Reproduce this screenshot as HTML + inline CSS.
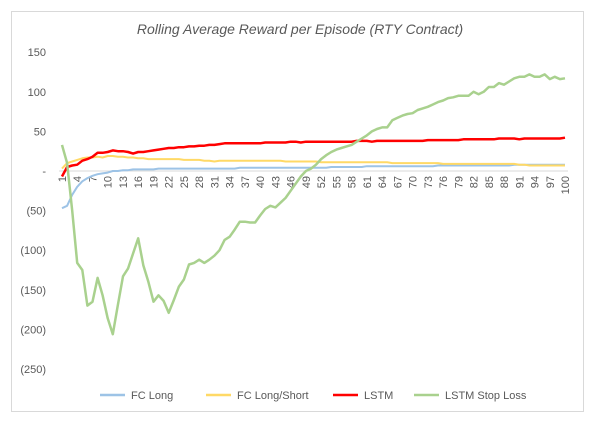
<!DOCTYPE html>
<html><head><meta charset="utf-8"><style>
body{margin:0;background:#fff;font-family:"Liberation Sans",sans-serif;}
#wrap{position:relative;width:598px;height:423px;}
</style></head><body>
<div id="wrap">
<svg id="chart" width="598" height="423">
<rect x="11.5" y="11.5" width="572" height="400" fill="#fff" stroke="#d9d9d9"/>
<text x="300" y="34" text-anchor="middle" font-size="14" font-style="italic" fill="#595959">Rolling Average Reward per Episode (RTY Contract)</text>
<g id="yaxis"></g>
<g id="xaxis"></g>
<g id="series"></g>
<g id="legend"></g>
</svg></div>
<script>
const yTicks=[150,100,50,0,-50,-100,-150,-200,-250];
const yTickLabels=["150","100","50","-","(50)","(100)","(150)","(200)","(250)"];
const fcLong=[-47,-44,-30,-20,-13,-9,-6,-4,-3,-2,0,0,1,1,2,2,2,2,2,3,3,3,3,3,3,3,3,3,3,3,3,3,3,3,3,4,4,4,4,4,4,4,4,4,4,4,4,4,4,4,4,4,4,5,5,5,5,5,5,5,6,6,6,6,6,6,6,6,6,6,6,6,6,6,7,7,7,7,7,7,7,7,7,7,7,7,7,7,7,8,8,8,8,8,8,8,8,8,8,8];
const fcLongShort=[3,10,12,14,16,17,17,18,17,19,19,18,18,17,17,16,16,15,15,15,15,15,15,15,14,14,14,14,13,13,12,13,13,13,13,13,13,13,13,13,13,13,13,13,12,12,12,12,12,12,12,11,11,11,11,11,11,11,11,11,11,11,11,11,11,10,10,10,10,10,10,10,10,10,10,9,9,9,9,9,9,9,9,9,9,9,9,9,9,9,8,8,7,7,7,7,7,7,7,7];
const lstm=[-7,5,7,8,13,15,18,23,23,24,26,25,25,24,22,24,24,25,26,27,28,29,29,30,30,31,31,32,32,33,33,34,35,35,35,35,35,35,35,35,36,36,36,36,36,37,37,36,37,37,37,37,37,37,37,37,37,37,38,38,38,37,38,38,38,38,38,38,38,38,38,38,39,39,39,39,39,39,39,40,40,40,40,40,40,40,41,41,41,41,40,41,41,41,41,41,41,41,41,42];
const lstmStopLoss=[33,10,-50,-116,-125,-170,-165,-135,-157,-186,-206,-169,-133,-123,-104,-85,-119,-140,-165,-157,-164,-179,-163,-146,-137,-118,-116,-112,-116,-112,-107,-100,-87,-83,-74,-64,-64,-65,-65,-56,-48,-44,-46,-40,-34,-25,-16,-7,0,3,8,15,20,24,27,29,31,33,37,41,45,50,53,55,55,64,67,70,72,73,77,79,81,84,87,89,92,93,95,95,95,100,97,100,106,106,111,109,113,117,119,119,122,119,119,122,116,119,116,117];
const seriesNames=["FC Long","FC Long/Short","LSTM","LSTM Stop Loss"];
const seriesData=[fcLong,fcLongShort,lstm,lstmStopLoss];
const seriesColors=["#9dc3e6","#ffd966","#ff0000","#a9d18e"];
const seriesWidths=[2,2,2.5,2.5];

const NS="http://www.w3.org/2000/svg";
const x0=62,x1=565,yZero=171,pxPerUnit=0.792;
const xs=i=>x0+(x1-x0)*i/(fcLong.length-1);
const ys=v=>yZero-v*pxPerUnit;
function mk(tag,attrs,parent){const e=document.createElementNS(NS,tag);for(const k in attrs)e.setAttribute(k,attrs[k]);parent.appendChild(e);return e;}
const yg=document.getElementById('yaxis'),xg=document.getElementById('xaxis'),sg=document.getElementById('series'),lg=document.getElementById('legend');
yTicks.forEach((t,i)=>{
  const e=mk('text',{x:46,y:ys(t)+4,'text-anchor':'end','font-size':11,fill:'#595959'},yg);
  
  
  e.textContent=yTickLabels[i];
});
const ax=mk('line',{x1:x0-3,x2:x1+3,y1:yZero,y2:yZero,stroke:'#d9d9d9','stroke-width':1},xg);


for(let i=0;i<fcLong.length;i+=3){
  const x=xs(i);
  const e=mk('text',{x:0,y:0,transform:`translate(${x+4},${yZero+5}) rotate(-90)`,'text-anchor':'end','font-size':11,fill:'#595959'},xg);
  
  
  e.textContent=String(i+1);
}
seriesData.forEach((d,s)=>{
  const p=mk('polyline',{points:d.map((v,i)=>xs(i).toFixed(1)+','+ys(v).toFixed(1)).join(' '),fill:'none',stroke:seriesColors[s],'stroke-width':seriesWidths[s],'stroke-linejoin':'round'},sg);
  
  
});
const legX=[100,206,333,414];
seriesNames.forEach((n,s)=>{
  const g=mk('g',{},lg);
  
  
  mk('line',{x1:legX[s],x2:legX[s]+25,y1:395,y2:395,stroke:seriesColors[s],'stroke-width':2.5},g);
  const t=mk('text',{x:legX[s]+31,y:399,'font-size':11,fill:'#595959'},g);
  t.textContent=n;
});
</script>
</body></html>
